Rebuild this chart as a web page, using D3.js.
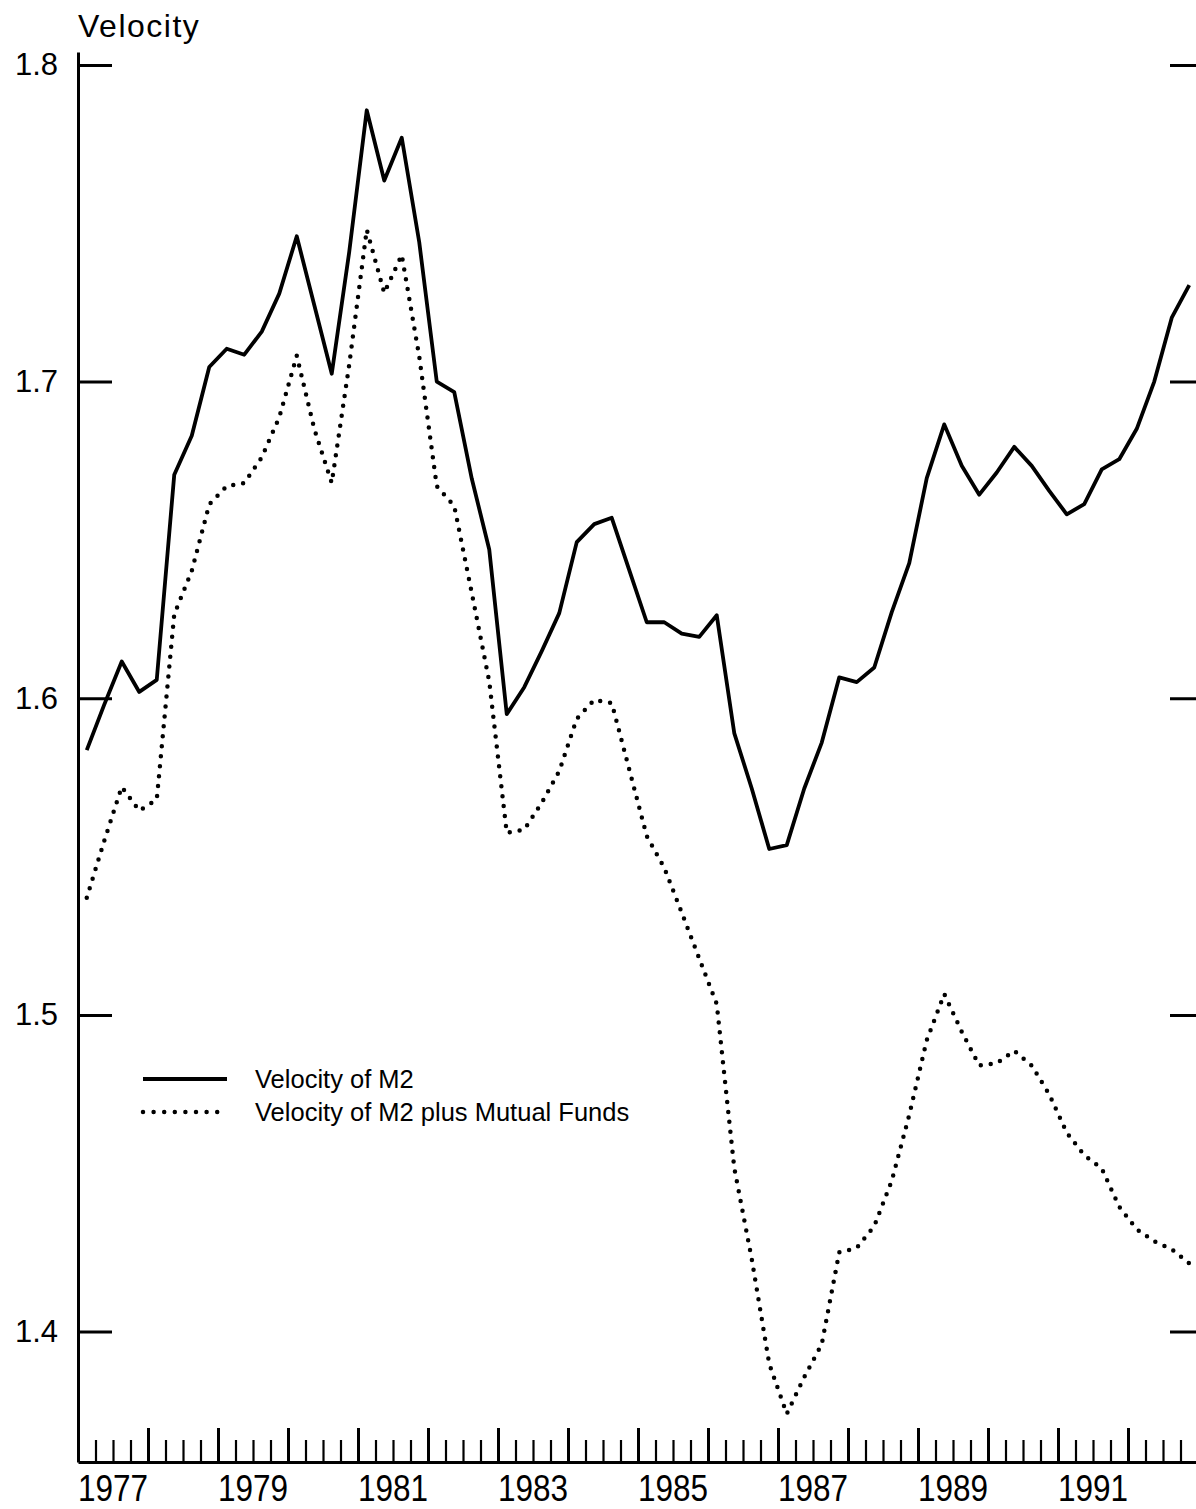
<!DOCTYPE html>
<html>
<head>
<meta charset="utf-8">
<script src="https://cdn.jsdelivr.net/npm/d3@7"></script>
<style>
  body { margin: 0; background: #fff; }
  svg { display: block; font-family: "Liberation Sans", Arial, Helvetica, sans-serif; }
</style>
</head>
<body>
<div id="chart"></div>
<script>
const width = 1196;
const height = 1509;

// quarterly data, 1977Q1 .. 1992Q4
const startYear = 1977;
const velocityM2 = [
  1.5836, 1.598, 1.6116, 1.602,
  1.6058, 1.6706, 1.6829, 1.7046,
  1.7104, 1.7085, 1.7158, 1.7278,
  1.7459, 1.7242, 1.7025, 1.741,
  1.7857, 1.7635, 1.777, 1.744,
  1.700, 1.6967, 1.6694, 1.647,
  1.595, 1.6035, 1.6149, 1.6269,
  1.6493, 1.655, 1.657, 1.6405,
  1.624, 1.624, 1.6204, 1.6194,
  1.6262, 1.589, 1.5715, 1.5524,
  1.5536, 1.5715, 1.586, 1.6066,
  1.6051, 1.6097, 1.6272, 1.6427,
  1.6695, 1.6865, 1.6734, 1.6643,
  1.6713, 1.6794, 1.6734, 1.6655,
  1.6581, 1.6613, 1.6723, 1.6755,
  1.6851, 1.700, 1.7202, 1.7305
];
const velocityM2Funds = [
  1.537, 1.555, 1.572, 1.5645,
  1.568, 1.6265, 1.6402, 1.6612,
  1.667, 1.668, 1.6761, 1.6887,
  1.7082, 1.6851, 1.668, 1.7054,
  1.748, 1.728, 1.740, 1.7079,
  1.667, 1.6607, 1.6333, 1.6053,
  1.5575, 1.5585, 1.567, 1.577,
  1.5935, 1.5995, 1.5985, 1.5775,
  1.5565, 1.5465, 1.5323, 1.5178,
  1.5034, 1.4517, 1.4229, 1.3898,
  1.374, 1.3856, 1.396, 1.425,
  1.4264, 1.4333, 1.4476, 1.4684,
  1.492, 1.5066, 1.4947, 1.484,
  1.4847, 1.4887, 1.484, 1.4749,
  1.4628, 1.4557, 1.4515, 1.4394,
  1.4323, 1.4285, 1.426, 1.4215
];
const yTicks = [1.4, 1.5, 1.6, 1.7, 1.8];
const yearLabels = [1977, 1979, 1981, 1983, 1985, 1987, 1989, 1991];
const legendItems = [
  { label: "Velocity of M2", dotted: false },
  { label: "Velocity of M2 plus Mutual Funds", dotted: true }
];

const x = d3.scaleLinear().domain([1977, 1993]).range([78, 1198]);
const y = d3.scaleLinear().domain([1.3588, 1.8041]).range([1462, 52]);

const svg = d3.select("#chart").append("svg")
  .attr("width", width)
  .attr("height", height);

svg.append("rect").attr("width", width).attr("height", height).attr("fill", "#fff");

// y axis (left)
const yAxis = svg.append("g")
  .attr("transform", `translate(${x(1977)},0)`)
  .call(d3.axisLeft(y).tickValues(yTicks).tickSizeInner(-34).tickSizeOuter(0)
    .tickPadding(20).tickFormat(d3.format(".1f")));
yAxis.attr("font-family", null);
yAxis.select(".domain").attr("stroke-width", 3);
yAxis.selectAll(".tick line").attr("stroke-width", 3);
yAxis.selectAll(".tick text").attr("font-size", 31).attr("fill", "#000");

// right ticks (their axis line is off the page)
const yRight = svg.append("g")
  .attr("transform", `translate(${x(1977) + 1126},0)`)
  .call(d3.axisRight(y).tickValues(yTicks).tickSizeInner(-34).tickSizeOuter(0).tickFormat(""));
yRight.select(".domain").remove();
yRight.selectAll(".tick line").attr("stroke-width", 3);

// x axis: quarter ticks and year ticks
const quarterTicks = d3.range(0, 64).filter(i => i % 4 !== 0).map(i => startYear + i / 4);
const yearTicks = d3.range(startYear, 1994);

const xAxisQ = svg.append("g")
  .attr("transform", `translate(0,${y.range()[0]})`)
  .call(d3.axisBottom(x).tickValues(quarterTicks).tickSizeInner(-22).tickSizeOuter(0).tickFormat(""));
xAxisQ.select(".domain").attr("stroke-width", 3);
xAxisQ.selectAll(".tick line").attr("stroke-width", 2.2);

const xAxisY = svg.append("g")
  .attr("transform", `translate(0,${y.range()[0]})`)
  .call(d3.axisBottom(x).tickValues(yearTicks).tickSizeInner(-34).tickSizeOuter(0).tickFormat(""));
xAxisY.select(".domain").remove();
xAxisY.selectAll(".tick line").attr("stroke-width", 3);

// year labels, centred on their year
svg.append("g")
  .selectAll("text")
  .data(yearLabels)
  .join("text")
  .attr("transform", d => `translate(${x(d + 0.5)},${y.range()[0] + 38.5}) scale(1,1.2)`)
  .attr("text-anchor", "middle")
  .attr("font-size", 31.5)
  .text(d => d);

// axis title
svg.append("text")
  .attr("x", x(1977))
  .attr("y", 37)
  .attr("font-size", 32)
  .attr("letter-spacing", 1.5)
  .text("Velocity");

// lines
const line = d3.line()
  .x((d, i) => x(startYear + (i + 0.5) / 4))
  .y(d => y(d));

svg.append("path")
  .datum(velocityM2)
  .attr("fill", "none")
  .attr("stroke", "#000")
  .attr("stroke-width", 3.8)
  .attr("stroke-linejoin", "round")
  .attr("d", line);

svg.append("path")
  .datum(velocityM2Funds)
  .attr("fill", "none")
  .attr("stroke", "#000")
  .attr("stroke-width", 4.5)
  .attr("stroke-linecap", "round")
  .attr("stroke-dasharray", "0 10")
  .attr("d", line);

// legend
const legend = svg.append("g").attr("transform", "translate(143,1079)");
const item = legend.selectAll("g")
  .data(legendItems)
  .join("g")
  .attr("transform", (d, i) => `translate(0,${i * 33})`);

item.append("line")
  .attr("x1", 0)
  .attr("x2", d => d.dotted ? 75 : 84)
  .attr("stroke", "#000")
  .attr("stroke-width", d => d.dotted ? 4.5 : 3.8)
  .attr("stroke-linecap", d => d.dotted ? "round" : "butt")
  .attr("stroke-dasharray", d => d.dotted ? "0 10.6" : null);

item.append("text")
  .attr("x", 112)
  .attr("y", 9)
  .attr("font-size", 25.5)
  .text(d => d.label);
</script>
</body>
</html>
